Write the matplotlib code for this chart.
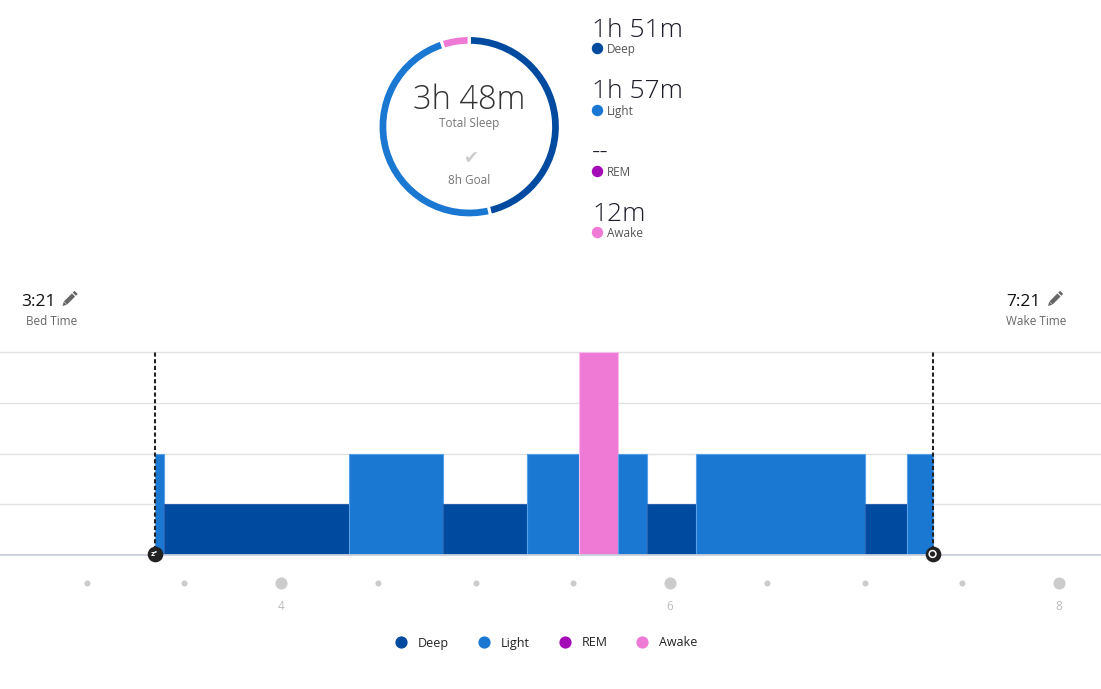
import matplotlib
matplotlib.use('Agg')
import matplotlib.pyplot as plt
from matplotlib.lines import Line2D
from matplotlib import font_manager as fm
from matplotlib import patheffects as pe

# ---------------- data ----------------
stages = ['Deep', 'Light', 'REM', 'Awake']
stage_colors = ['#004aa0', '#1a77d2', '#a40ab5', '#ef7ad6']
stage_edges = ['#2c62ad', '#55a0e6', '#c050d0', '#f7bdeb']
stage_levels = [1, 2, 3, 4]
stage_durations = ['1h 51m', '1h 57m', '--', '12m']
donut_minutes = [111, 117, 0, 12]

total_sleep = '3h 48m'
total_label = 'Total Sleep'
goal_label = '8h Goal'
bed_time = '3:21'
wake_time = '7:21'

seg_starts = ['3:21', '3:24', '4:21', '4:50', '5:16', '5:32', '5:44', '5:53', '6:08', '7:00', '7:13']
seg_stage = ['Light', 'Deep', 'Light', 'Deep', 'Light', 'Awake', 'Light', 'Deep', 'Light', 'Deep', 'Light']
seg_end = '7:21'

tick_dots = [3, 3.5, 4, 4.5, 5, 5.5, 6, 6.5, 7, 7.5, 8]
tick_labels = [4, 6, 8]

# ---------------- fonts ----------------
W, H = 1101, 689
plt.rcParams['font.family'] = ['Open Sans', 'DejaVu Sans']


def find_light():
    keys = ['OpenSans-Light', 'Lato-Light', 'Roboto-Light', 'NotoSans-Light', 'Inter-Light']
    files = [f.fname for f in fm.fontManager.ttflist]
    for k in keys:
        for p in files:
            base = p.split('/')[-1]
            if base.startswith(k) and 'Italic' not in base:
                return fm.FontProperties(fname=p)
    return None


LIGHT = find_light()
THIN = [pe.Normal(), pe.Stroke(linewidth=0.9, foreground='white')]


def light_kw(size):
    if LIGHT is not None:
        fp = LIGHT.copy()
        fp.set_size(size)
        return dict(fontproperties=fp)
    return dict(fontsize=size, fontweight='light', path_effects=THIN)


fig = plt.figure(figsize=(W / 100, H / 100), dpi=100)
fig.patch.set_facecolor('white')


def fx(x):
    return x / W


def fy(y):
    return 1 - y / H


def hours(s):
    h, m = s.split(':')
    return int(h) + int(m) / 60


# overlay axes in pixel coordinates (for small dots / icons)
ov = fig.add_axes([0, 0, 1, 1])
ov.set_xlim(0, W)
ov.set_ylim(H, 0)
ov.axis('off')

# ---------------- donut ----------------
cx, cy, R = 469.2, 126.7, 91.2
pax = fig.add_axes([fx(cx - R), fy(cy + R), 2 * R / W, 2 * R / H])
vals = [v for v in donut_minutes if v > 0]
cols = [c for v, c in zip(donut_minutes, stage_colors) if v > 0]
pax.pie(vals, colors=cols, startangle=90, counterclock=False, radius=1,
        wedgeprops=dict(width=9.8 / R, edgecolor='white', linewidth=2.2))
pax.set_xlim(-1, 1)
pax.set_ylim(-1, 1)
pax.axis('off')

fig.text(fx(469), fy(109), total_sleep, ha='center', va='baseline',
         color='#333333', **light_kw(23.5))
fig.text(fx(469), fy(126.5), total_label, ha='center', va='baseline',
         fontsize=8.5, color='#777777')
fig.text(fx(471), fy(157), '\u2714', ha='center', va='center',
         fontsize=13, color='#cccccc', family='DejaVu Sans')
fig.text(fx(469), fy(184), goal_label, ha='center', va='baseline',
         fontsize=8.5, color='#777777')

# ---------------- stats on the right ----------------
num_base = [36.8, 98.2, 159.5, 220.5]
lab_base = [53, 114.5, 176.5, 236.7]
dot_y = [48.3, 110, 171, 232]
for i, st in enumerate(stages):
    fig.text(fx(592), fy(num_base[i]), stage_durations[i], ha='left', va='baseline',
             color='#1c1c2a', **light_kw(19))
    fig.text(fx(607), fy(lab_base[i]), st, ha='left', va='baseline',
             fontsize=8.5, color='#555555')
    ov.scatter([597], [dot_y[i]], s=52, color=stage_colors[i], zorder=5)


# ---------------- bed / wake ----------------
def pencil(x, y):
    # small filled pencil icon, tip at lower-left, (x, y) = tip in pixels
    ov.fill([x, x + 1.2, x + 4.2], [y, y - 4.2, y - 1.2], color='#666666', lw=0)
    ov.plot([x + 3.0, x + 11.0], [y - 3.0, y - 11.0], color='#666666', lw=3.2,
            solid_capstyle='butt')
    ov.plot([x + 11.8, x + 13.6], [y - 11.8, y - 13.6], color='#666666', lw=3.2,
            solid_capstyle='butt')


fig.text(fx(21.5), fy(306), bed_time, ha='left', va='baseline', fontsize=12.5, color='#111111')
pencil(62.5, 306)
fig.text(fx(25.5), fy(325), 'Bed Time', ha='left', va='baseline', fontsize=8.5, color='#666666')

fig.text(fx(1006.5), fy(306), wake_time, ha='left', va='baseline', fontsize=12.5, color='#111111')
pencil(1048, 306)
fig.text(fx(1005.5), fy(325), 'Wake Time', ha='left', va='baseline', fontsize=8.5, color='#666666')

# ---------------- main step chart ----------------
y_top, y_base = 352, 555
x0_px, px_per_hour = 281, 194.5
ax = fig.add_axes([0, fy(y_base), 1, (y_base - y_top) / H])
ax.set_xlim(4 - x0_px / px_per_hour, 4 + (W - x0_px) / px_per_hour)
ax.set_ylim(0, 4)
ax.axis('off')

for lvl in stage_levels:
    ax.axhline(lvl, color='#e2e2e2', lw=1.0, zorder=1, clip_on=False)
ax.axhline(0, color='#c9cfdc', lw=1.3, zorder=4, clip_on=False)

starts = [hours(s) for s in seg_starts]
ends = starts[1:] + [hours(seg_end)]
for s, e, st in zip(starts, ends, seg_stage):
    i = stages.index(st)
    ax.bar(s, stage_levels[i], width=e - s, align='edge', color=stage_colors[i],
           edgecolor=stage_edges[i], linewidth=0.8, zorder=3)

for t in (hours(bed_time), hours(wake_time)):
    ax.plot([t, t], [0.1, 4], color='#222222', lw=1.5, linestyle=(0, (2, 1.2)),
            zorder=5, clip_on=False)
    ax.scatter([t], [0.02], s=105, color='#222222', zorder=6, clip_on=False)

bt = hours(bed_time)
ax.text(bt, 0.02, 'z\u1dbb', ha='center', va='center', fontsize=5, color='white',
        fontweight='bold', zorder=7, family='DejaVu Sans')
wt = hours(wake_time)
ax.scatter([wt], [0.02], s=24, facecolor='none', edgecolor='white', linewidth=1.1,
           zorder=7, clip_on=False)

xt = ax.get_xaxis_transform()
dot_ax_y = -(583 - y_base) / (y_base - y_top)
lab_ax_y = -(606 - y_base) / (y_base - y_top)
small = [t for t in tick_dots if t not in tick_labels]
ax.scatter(small, [dot_ax_y] * len(small), s=19, color='#cccccc', transform=xt,
           clip_on=False, zorder=2, linewidths=0)
ax.scatter(tick_labels, [dot_ax_y] * len(tick_labels), s=76, color='#cccccc',
           transform=xt, clip_on=False, zorder=2, linewidths=0)
for t in tick_labels:
    ax.text(t, lab_ax_y, str(t), transform=xt, ha='center', va='center',
            fontsize=8.5, color='#bbbbbb')

# ---------------- legend ----------------
handles = [Line2D([], [], marker='o', linestyle='', markersize=8.8, color=c,
                  markeredgewidth=0) for c in stage_colors]
fig.legend(handles, stages, loc='center', bbox_to_anchor=(fx(546), fy(643)),
           ncol=4, frameon=False, fontsize=9, handlelength=1.0, handletextpad=0.85,
           columnspacing=2.3, labelcolor='#222222')

fig.savefig('out.png', dpi=100, facecolor='white')
